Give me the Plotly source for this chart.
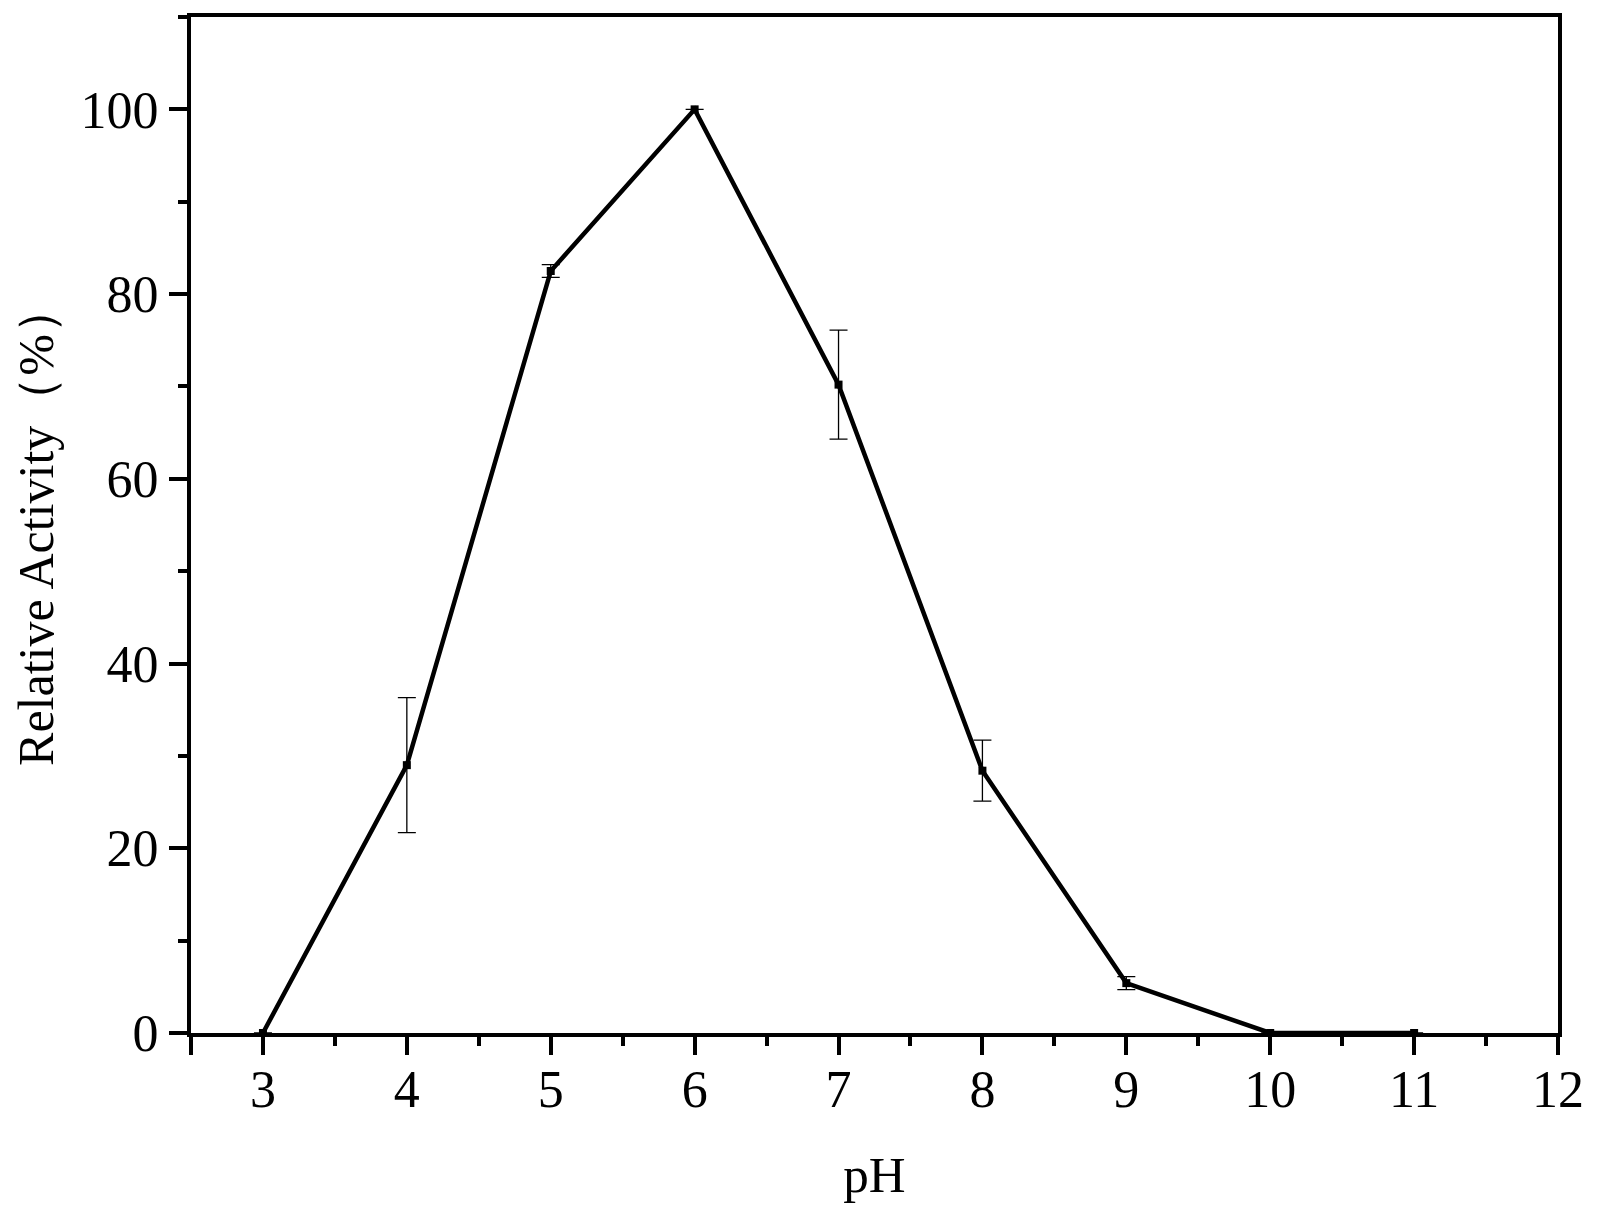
import plotly.graph_objects as go

ph = [3, 4, 5, 6, 7, 8, 9, 10, 11]
activity = [0, 29.0, 82.5, 100, 70.2, 28.4, 5.4, 0, 0]
err = [0, 7.3, 0.7, 0, 5.9, 3.3, 0.7, 0, 0]

x_ticks = [2.5, 3, 4, 5, 6, 7, 8, 9, 10, 11, 12]
x_labels = ["", "3", "4", "5", "6", "7", "8", "9", "10", "11", "12"]
y_ticks = [0, 20, 40, 60, 80, 100]

font_family = "Liberation Serif, Times New Roman, serif"

fig = go.Figure()
fig.add_trace(go.Scatter(
    x=ph, y=activity,
    mode="lines+markers",
    line=dict(color="black", width=4.5),
    marker=dict(symbol="square", size=8, color="black"),
    error_y=dict(type="data", array=err, visible=True, color="black",
                 thickness=1.3, width=9),
    showlegend=False,
    cliponaxis=False,
))

axis_common = dict(
    showline=True, linecolor="black", linewidth=4, mirror=True,
    ticks="outside", tickcolor="black", tickwidth=4, ticklen=18,
    showgrid=False, zeroline=False,
    tickfont=dict(family=font_family, size=52, color="black"),
    minor=dict(ticks="outside", ticklen=9, tickwidth=4, tickcolor="black"),
)

fig.update_xaxes(range=[2.5, 12], tickvals=x_ticks, ticktext=x_labels,
                 minor_dtick=0.5, minor_tick0=2.5, ticklabelstandoff=-10,
                 title=dict(text="pH", font=dict(family=font_family, size=51, color="black"),
                            standoff=40),
                 **axis_common)
fig.update_yaxes(range=[0, 110], tickvals=y_ticks,
                 ticktext=[str(v) for v in y_ticks],
                 minor_dtick=10, minor_tick0=0,
                 title=dict(text="Relative Activity（%）",
                            font=dict(family=font_family, size=50, color="black"),
                            standoff=20),
                 **axis_common)

fig.update_layout(
    width=1601, height=1212,
    margin=dict(l=183, r=51, t=5, b=187, pad=0),
    plot_bgcolor="white", paper_bgcolor="white",
)

fig.write_html("out.html")
